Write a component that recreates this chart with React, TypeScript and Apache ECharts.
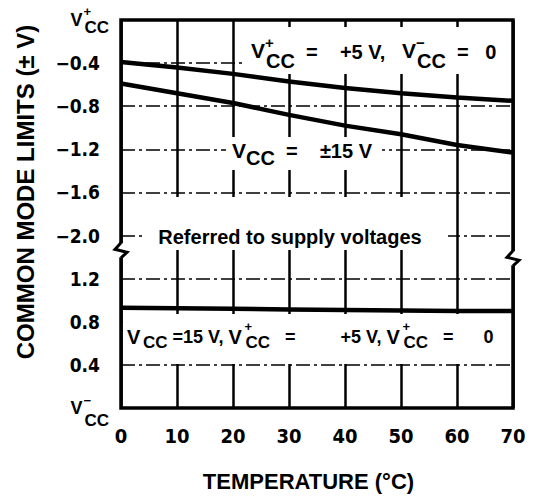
import React, { useEffect, useRef } from "react";
import * as echarts from "echarts";

// ---------------- data ----------------
const temperatureC = [0, 10, 20, 30, 40, 50, 60, 70];
const xTickLabels = ["0", "10", "20", "30", "40", "50", "60", "70"];
// upper common-mode limit, referred to VCC+ (V)
const upperLimit5V = [-0.39, -0.44, -0.5, -0.57, -0.63, -0.68, -0.72, -0.75]; // VCC+ = +5 V, VCC- = 0
const upperLimit15V = [-0.59, -0.68, -0.77, -0.88, -0.98, -1.06, -1.16, -1.23]; // VCC = ±15 V
// lower common-mode limit, referred to VCC- (V)
const lowerLimit = [0.93, 0.925, 0.92, 0.915, 0.91, 0.905, 0.9, 0.9];
// y tick labels from bottom to top (broken axis: lower part referred to VCC-, upper part to VCC+)
const yTickLabels = ["VCC−", "0.4", "0.8", "1.2", "−2.0", "−1.6", "−1.2", "−0.8", "−0.4", "VCC+"];

const STEP = 0.4; // volts per grid division
const TOP_UNIT = yTickLabels.length - 1;
const BREAK_UNIT = 3.6;
const upperToUnit = (v: number) => TOP_UNIT + v / STEP;
const lowerToUnit = (v: number) => v / STEP;

// ---------------- styles ----------------
const SANS = "'Liberation Sans', Arial, Helvetica, sans-serif";
const NARROW = "'Liberation Sans Narrow', 'DejaVu Sans Condensed', 'Liberation Sans', sans-serif";
const NB = "\u00a0";
const sp = (n: number) => NB.repeat(n);
const L = 40;
// rich token whose text centre sits `off` px below the centre of the (single) line
const tok = (fontSize: number, off: number, extra: any = {}) => ({
  fontSize,
  fontFamily: SANS,
  fontWeight: "bold",
  fill: "#000",
  color: "#000",
  align: "left",
  lineHeight: L,
  height: fontSize,
  verticalAlign: "top",
  padding: [L / 2 + off - fontSize / 2, 0, 0, 0],
  ...extra,
});

const annRich = {
  aV: tok(21, 0, { width: 14 }),
  aSp: tok(15, -7.5, { width: 1 }),
  aC: tok(20, 10.5),
  aT: tok(20, 2),
  bV: tok(21, 0, { width: 14 }),
  bC: tok(20, 7.5),
  bT: tok(20, 0.5),
  cV: tok(20, 0, { width: 16 }),
  cSp: tok(13, -11, { width: 1 }),
  cC: tok(17, 5),
  cT: tok(18, 0),
};

const annA = `{aV|V}{aSp|+}{aC|CC}{aT|${sp(2)}=${sp(4)}+5${NB}V,${sp(3)}}{aV|V}{aSp|−}{aC|CC}{aT|${sp(2)}=${sp(3)}0}`;
const annB = `{bV|V}{bC|CC}{bT|${sp(2)}=${sp(4)}±15${NB}V}`;
const annC = `{cV|V}{cC|CC}{cT|${NB}=15${NB}V,${NB}}{cV|V}{cSp|+}{cC|CC}{cT|${sp(3)}=${sp(9)}+5${NB}V,${NB}}{cV|V}{cSp|+}{cC|CC}{cT|${sp(3)}=${sp(6)}0}`;

export default function App() {
  const ref = useRef<HTMLDivElement>(null);
  useEffect(() => {
    document.body.style.margin = "0";
    const chart = echarts.init(ref.current!, null, { renderer: "svg" });
    const lineSeries = (values: number[], conv: (v: number) => number) => ({
      type: "line",
      data: temperatureC.map((t, i) => [t, conv(values[i])]),
      symbol: "none",
      lineStyle: { color: "#000", width: 4.5 },
      z: 2,
    });
    chart.setOption({
      animation: false,
      backgroundColor: "#fff",
      grid: {
        left: 121,
        right: 20,
        top: 17,
        bottom: 89,
        show: true,
        borderColor: "#000",
        borderWidth: 3.5,
        backgroundColor: "transparent",
      },
      xAxis: {
        type: "value",
        min: 0,
        max: 70,
        interval: 10,
        axisLine: { show: false },
        axisTick: { show: false },
        splitLine: { show: true, lineStyle: { color: "#000", width: 2.5 } },
        axisLabel: {
          margin: 18,
          color: "#000",
          fontFamily: NARROW,
          fontWeight: "bold",
          fontSize: 20,
          showMinLabel: true,
          showMaxLabel: true,
          formatter: (v: number) => xTickLabels[temperatureC.indexOf(v)] ?? "",
        },
        name: "TEMPERATURE (°C)",
        nameLocation: "middle",
        nameGap: 62,
        nameTextStyle: {
          color: "#000",
          fontFamily: SANS,
          fontWeight: "bold",
          fontSize: 22,
          padding: [0, 17, 0, 0],
        },
      },
      yAxis: {
        type: "value",
        min: 0,
        max: TOP_UNIT,
        interval: 1,
        axisLine: { show: false },
        axisTick: { show: false },
        splitLine: {
          show: true,
          lineStyle: { color: "#000", width: 1.5, type: [14, 4, 3, 4] },
        },
        axisLabel: {
          margin: 12,
          color: "#000",
          showMinLabel: true,
          showMaxLabel: true,
          formatter: (v: number) => {
            const i = Math.round(v);
            if (i === TOP_UNIT) return "{yV|V}{ySp|+}{yC|CC}";
            if (i === 0) return "{yV|V}{ySm|−}{yC2|CC}";
            return `{n|${yTickLabels[i]}}`;
          },
          rich: {
            n: {
              fontFamily: NARROW,
              fontWeight: "bold",
              fontSize: 19,
              color: "#000",
              padding: [0, 9, 0, 0],
            },
            yV: tok(18, 0, { width: 13 }),
            ySp: tok(13, -9, { width: 1 }),
            yC: tok(17, 7.5),
            ySm: tok(13, -8, { width: 1 }),
            yC2: tok(17, 12),
          },
        },
      },
      series: [
        lineSeries(upperLimit5V, upperToUnit),
        lineSeries(upperLimit15V, upperToUnit),
        lineSeries(lowerLimit, lowerToUnit),
      ],
    });

    const [xl, yb] = chart.convertToPixel({ gridIndex: 0 }, [0, BREAK_UNIT]) as number[];
    const [xr] = chart.convertToPixel({ gridIndex: 0 }, [70, BREAK_UNIT]) as number[];
    const box = (x: number, y: number, w: number, h: number) => ({
      type: "rect",
      z: 1,
      shape: { x, y, width: w, height: h },
      style: { fill: "#fff" },
    });
    const brk = (x: number, y: number) => [
      { type: "rect", z: 3, shape: { x: x - 3, y: y - 7, width: 6, height: 14 }, style: { fill: "#fff" } },
      {
        type: "polyline",
        z: 4,
        shape: { points: [[x, y - 7.5], [x - 6, y - 1], [x + 6, y + 2], [x, y + 7.5]] },
        style: { stroke: "#000", lineWidth: 3, fill: null },
      },
    ];
    const txt = (x: number, y: number, text: string, align = "left") => ({
      type: "text",
      z: 5,
      x,
      y,
      style: {
        text,
        rich: annRich,
        fill: "#000",
        fontFamily: SANS,
        fontWeight: "bold",
        fontSize: 20,
        align,
        verticalAlign: "middle",
      },
    });
    chart.setOption({
      graphic: {
        elements: [
          box(245, 27, 266, 47),
          box(226, 137, 156, 33),
          box(145, 197, 303, 53),
          box(123, 314, 388, 50),
          ...brk(xl, yb - 2.5),
          ...brk(xr, yb + 5.5),
          txt(251, 50, annA),
          txt(232, 150, annB),
          txt(127, 337, annC),
          txt(290, 237, "Referred to supply voltages", "center"),
          {
            type: "text",
            z: 5,
            x: 25,
            y: 192,
            rotation: Math.PI / 2,
            style: {
              text: "COMMON MODE LIMITS (± V)",
              fill: "#000",
              fontFamily: SANS,
              fontWeight: "bold",
              fontSize: 24,
              align: "center",
              verticalAlign: "middle",
            },
          },
        ],
      },
    });
    return () => chart.dispose();
  }, []);
  return <div ref={ref} style={{ width: 533, height: 497 }} />;
}
